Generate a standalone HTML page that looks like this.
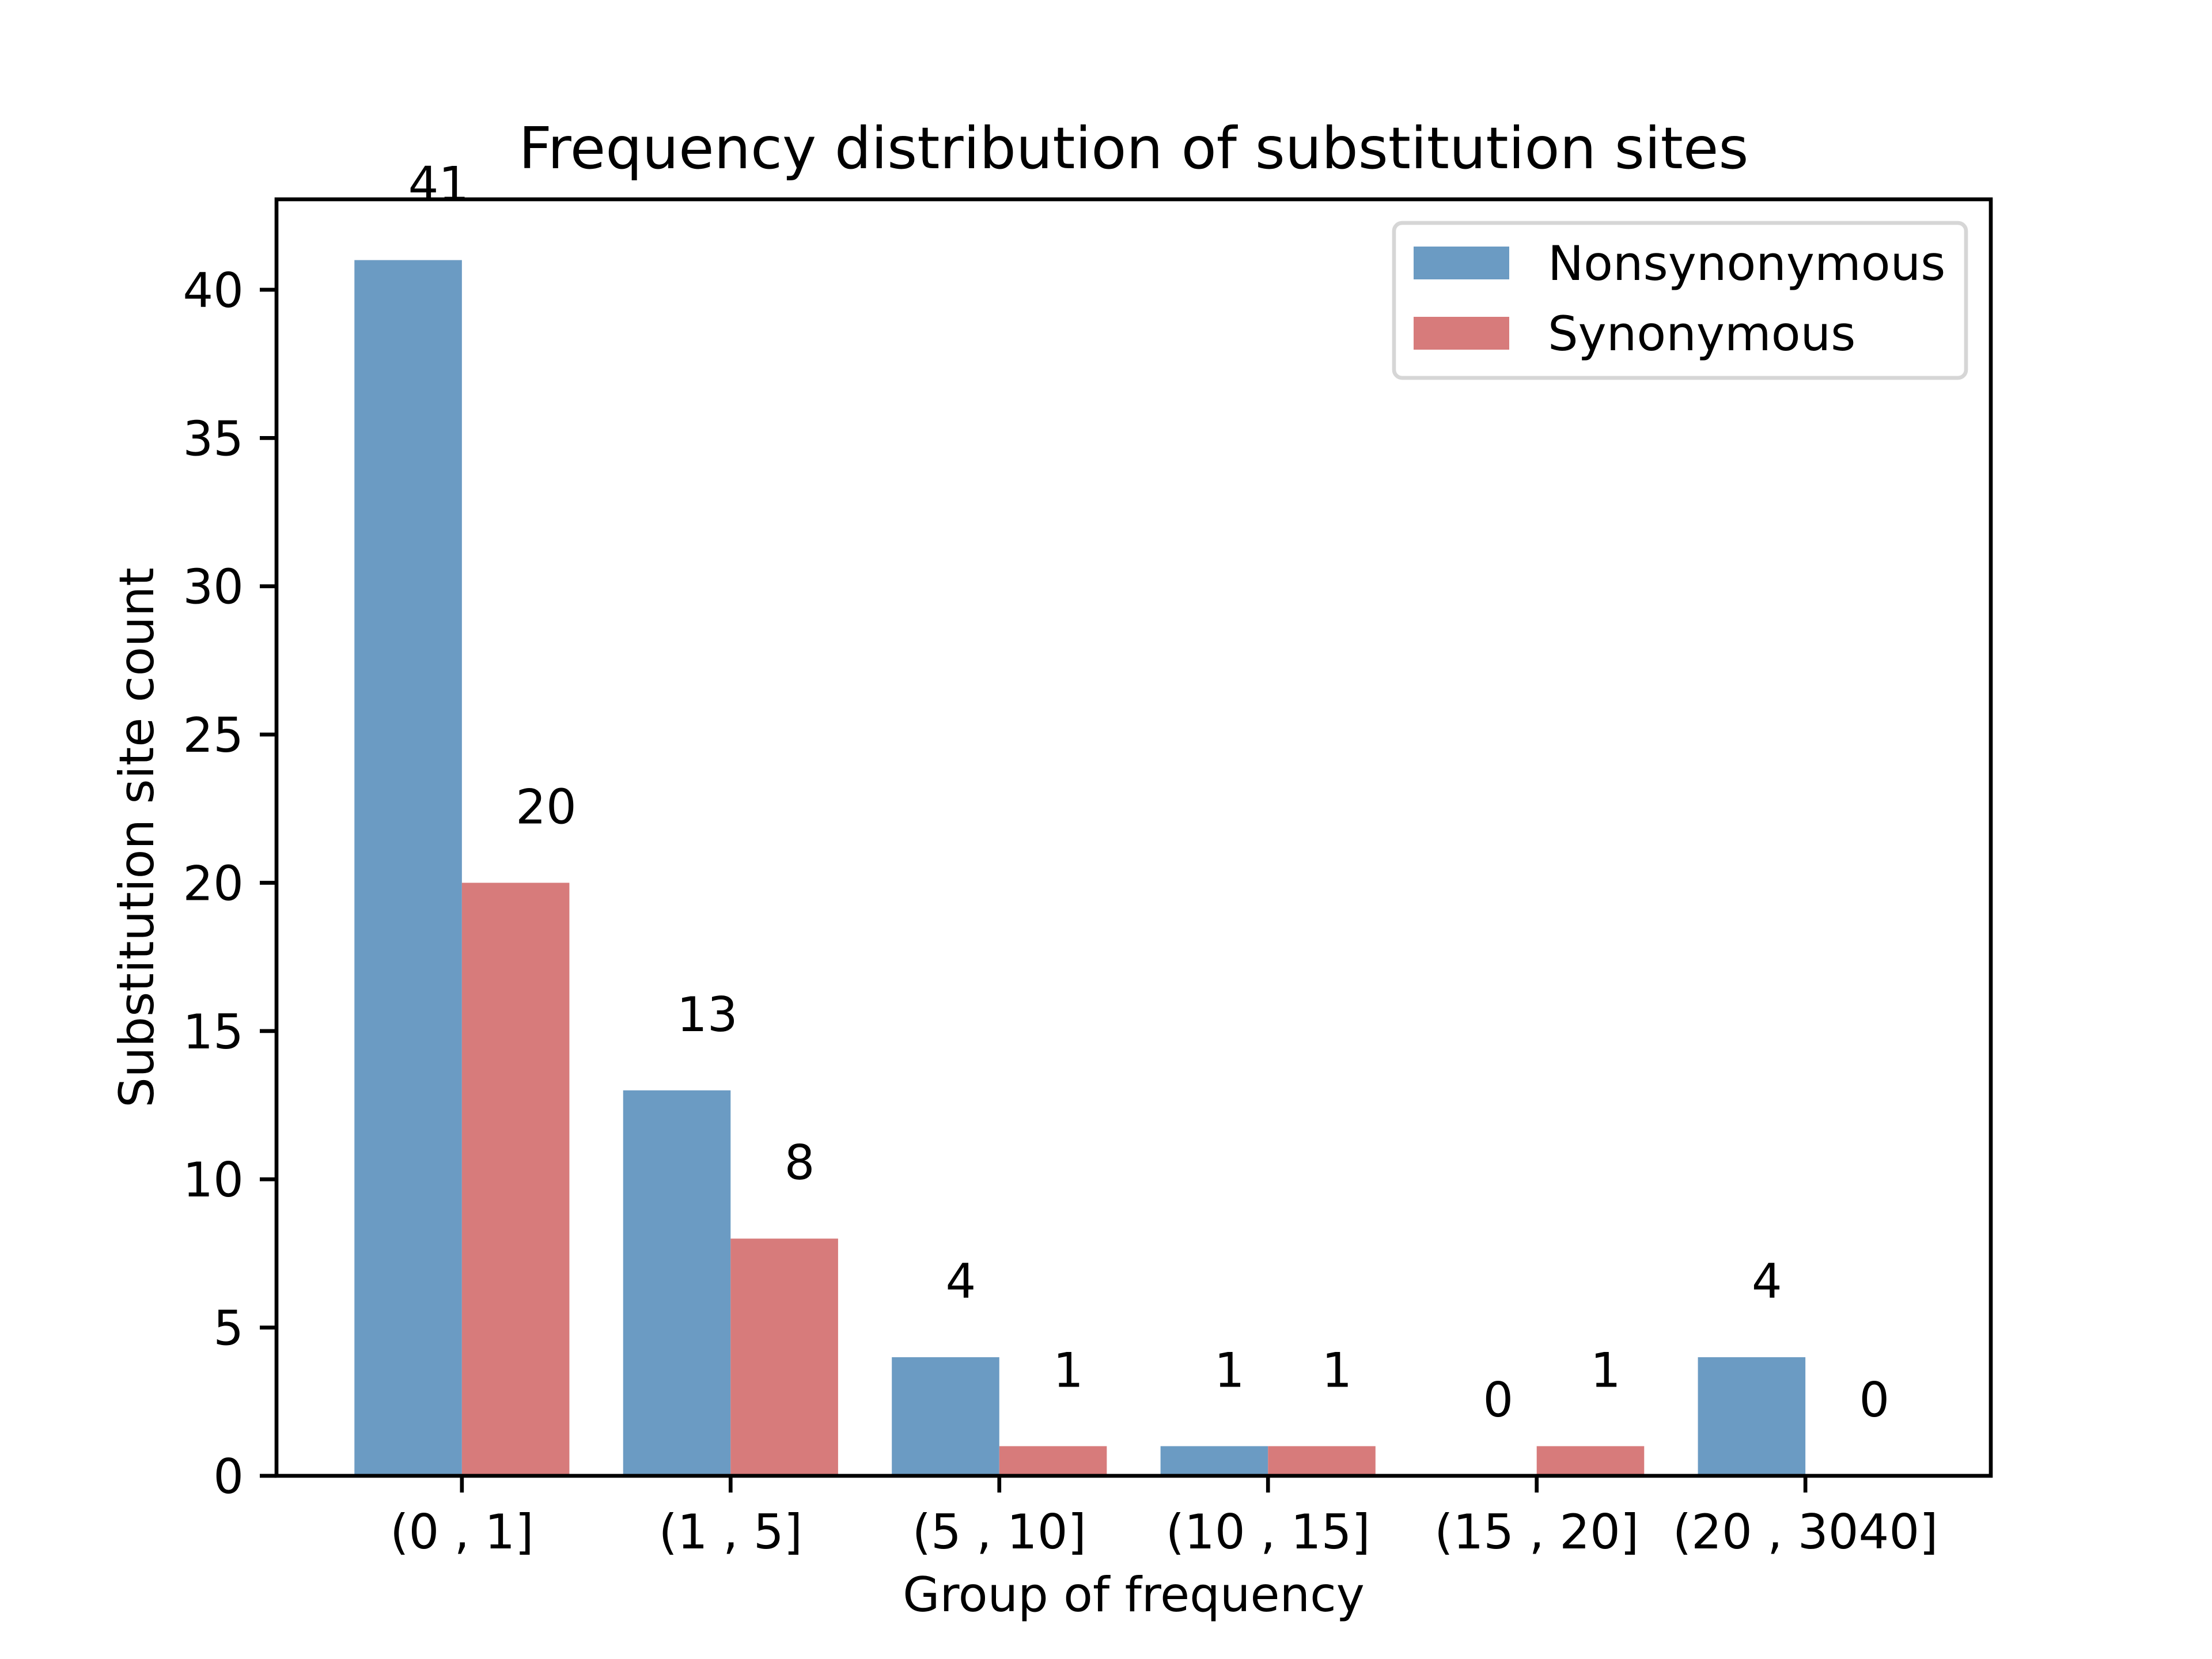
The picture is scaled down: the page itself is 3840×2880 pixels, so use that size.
<!DOCTYPE html>
<html><head><meta charset="utf-8"><style>
html,body{margin:0;padding:0;background:#fff;}
svg{display:block;font-family:"DejaVu Sans","Liberation Sans",sans-serif;}
</style></head><body>
<svg id="chart" width="3840" height="2880" viewBox="0 0 3840 2880" xmlns="http://www.w3.org/2000/svg">
<rect width="3840" height="2880" fill="#fff"/>
<g id="bars"></g>
<g id="labels"></g>
<g id="axes"></g>
</svg>
<script>
const categories = ["(0 , 1]", "(1 , 5]", "(5 , 10]", "(10 , 15]", "(15 , 20]", "(20 , 3040]"];
const nonsyn = [41, 13, 4, 1, 0, 4];
const syn = [20, 8, 1, 1, 1, 0];
const yTicks = [0, 5, 10, 15, 20, 25, 30, 35, 40];

const NS = "http://www.w3.org/2000/svg";
const L = 480, R = 3456, T = 346, B = 2562;
const maxV = Math.max(...nonsyn, ...syn);
const yMax = maxV * 1.05;
const xMin = -0.4 - 0.05 * (categories.length - 1 + 0.8);
const xMax = categories.length - 1 + 0.4 + 0.05 * (categories.length - 1 + 0.8);
const xs = v => L + (v - xMin) / (xMax - xMin) * (R - L);
const ys = v => B - v / yMax * (B - T);
const W = 0.4;

function mk(tag, attrs, parent, text) {
  const e = document.createElementNS(NS, tag);
  for (const k in attrs) e.setAttribute(k, attrs[k]);
  if (text !== undefined) e.textContent = text;
  parent.appendChild(e);
  return e;
}
const gb = document.getElementById('bars');
const gl = document.getElementById('labels');
const ga = document.getElementById('axes');

categories.forEach((c, i) => {
  const x0 = xs(i - W), x1 = xs(i), x2 = xs(i + W);
  const b1 = mk('rect', {x: x0, y: ys(nonsyn[i]), width: x1 - x0, height: B - ys(nonsyn[i]), fill: '#6b9bc3'}, gb);
  
  
  const b2 = mk('rect', {x: x1, y: ys(syn[i]), width: x2 - x1, height: B - ys(syn[i]), fill: '#d77b7b'}, gb);
  
  
  const t1 = mk('text', {x: xs(i - 0.2), y: ys(nonsyn[i] + 2), 'text-anchor': 'start', 'font-size': 83}, gl, String(nonsyn[i]));
  
  
  const t2 = mk('text', {x: xs(i + 0.2), y: ys(syn[i] + 2), 'text-anchor': 'start', 'font-size': 83}, gl, String(syn[i]));
  
  
  const tk = mk('line', {x1: xs(i), x2: xs(i), y1: B, y2: B + 29, stroke: '#000', 'stroke-width': 6.67}, ga);
  
  
  const tl = mk('text', {x: xs(i), y: 2688, 'text-anchor': 'middle', 'font-size': 83}, ga, c);
  
  
});

yTicks.forEach(v => {
  const tk = mk('line', {x1: L - 29, x2: L, y1: ys(v), y2: ys(v), stroke: '#000', 'stroke-width': 6.67}, ga);
  
  
  const tl = mk('text', {x: 423, y: ys(v) + 30, 'text-anchor': 'end', 'font-size': 83}, ga, String(v));
  
  
});

const frame = mk('rect', {x: L, y: T, width: R - L, height: B - T, fill: 'none', stroke: '#000', 'stroke-width': 6.67}, ga);



const title = mk('text', {x: (L + R) / 2, y: 292, 'text-anchor': 'middle', 'font-size': 100}, ga, 'Frequency distribution of substitution sites');


const xl = mk('text', {x: (L + R) / 2, y: 2797, 'text-anchor': 'middle', 'font-size': 83}, ga, 'Group of frequency');


const yl = mk('text', {x: 0, y: 0, 'text-anchor': 'middle', 'font-size': 83, transform: 'translate(266,' + (T + B) / 2 + ') rotate(-90)'}, ga, 'Substitution site count');



const lg = mk('g', {}, ga);


mk('rect', {x: 2420, y: 387, width: 993, height: 269, rx: 14, fill: '#fff', 'fill-opacity': 0.8, stroke: '#d6d6d6', 'stroke-width': 6.67}, lg);
const p1 = mk('rect', {x: 2454, y: 428, width: 166, height: 57, fill: '#6b9bc3'}, lg);


const e1 = mk('text', {x: 2687, y: 486, 'font-size': 83}, lg, 'Nonsynonymous');


const p2 = mk('rect', {x: 2454, y: 550, width: 166, height: 57, fill: '#d77b7b'}, lg);


const e2 = mk('text', {x: 2687, y: 608, 'font-size': 83}, lg, 'Synonymous');


</script>
</body></html>
